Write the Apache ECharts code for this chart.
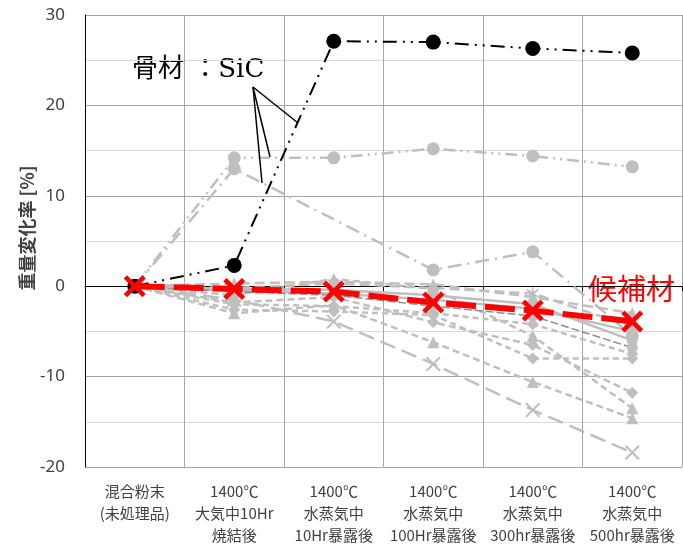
<!DOCTYPE html>
<html><head><meta charset="utf-8">
<script src="https://cdn.jsdelivr.net/npm/echarts@6/dist/echarts.min.js"></script>
<style>html,body{margin:0;padding:0;background:#fff}#c{width:683px;height:544px}</style>
</head><body><div id="c"></div>
<script>
const categories = ['混合粉末\n(未処理品)', '1400℃\n大気中10Hr\n焼結後', '1400℃\n水蒸気中\n10Hr暴露後', '1400℃\n水蒸気中\n100Hr暴露後', '1400℃\n水蒸気中\n300hr暴露後', '1400℃\n水蒸気中\n500hr暴露後'];
const sicValues = [0, 2.3, 27.1, 27.0, 26.3, 25.8];
const candidateValues = [0, -0.3, -0.6, -1.8, -2.7, -3.9];
const greyCircleA = [0, 14.2, 14.2, 15.2, 14.4, 13.2];
const greyCircleB = [0, 13.0, null, 1.8, 3.8, -5.5];
const greyCrossA = [0, -1.5, -3.9, -8.6, -13.7, -18.4];
const greyTriA = [0, -3.0, -2.1, -6.2, -10.6, -14.6];
const greyTriB = [0, -1.0, 0.8, -0.3, -5.5, -13.5];
const greyDiaA = [0, -1.8, -1.2, -4.0, -6.5, -11.8];
const greyDiaB = [0, -2.6, -2.8, -3.2, -8.0, -8.0];
const greyCircleC = [0, -0.5, -0.8, -1.5, -2.5, -5.0];
const greyCircleD = [0, -0.3, -0.4, -1.0, -2.0, -6.0];
const greyCircleE = [0, -0.6, -1.0, -2.2, -3.3, -6.8];
const greyStar = [0, -0.2, 0.3, -0.2, -0.8, -4.5];
const greyDiaC = [0, -2.0, -2.2, -3.0, -4.2, -7.5];
const greyTriC = [0, 0.3, 0.5, 0.2, -1.2, -3.0];
const yTicks = [-20, -10, 0, 10, 20, 30];

const GREY = '#bfbfbf';
const crossPath = 'path://M0,3 L3,0 L10,7 L17,0 L20,3 L13,10 L20,17 L17,20 L10,13 L3,20 L0,17 L7,10 Z';
const crossThin = 'path://M0,2 L2,0 L10,8 L18,0 L20,2 L12,10 L20,18 L18,20 L10,12 L2,20 L0,18 L8,10 Z';
const starPath = 'path://M9,0 L11,0 L11,7 L17,3 L18,5 L12,10 L18,15 L17,17 L11,13 L11,20 L9,20 L9,13 L3,17 L2,15 L8,10 L2,5 L3,3 L9,7 Z';

function grey(data, symbol, size, dash, width, color) {
  return {
    type: 'line', data: data, symbol: symbol, symbolSize: size, connectNulls: true,
    lineStyle: { color: color || GREY, width: width || 2.5, type: dash, cap: 'butt' },
    itemStyle: { color: GREY }, z: 2, animation: false
  };
}

const series = [
  grey(greyCircleA, 'circle', 13, [12, 5, 2, 5, 2, 5], 2.5),
  grey(greyCircleB, 'circle', 13, [14, 6, 2, 6], 2.5),
  grey(greyCrossA, crossThin, 15, [16, 7], 2.5),
  grey(greyTriA, 'triangle', 12, [7, 4], 2.5),
  grey(greyTriB, 'triangle', 12, [7, 4], 2.5),
  grey(greyDiaA, 'diamond', 12, [7, 4], 2.5),
  grey(greyDiaB, 'diamond', 12, [6, 4], 2.5),
  grey(greyCircleC, 'circle', 11, 'solid', 2.5),
  grey(greyCircleD, 'circle', 11, 'solid', 2.5),
  grey(greyCircleE, 'circle', 11, [8, 3], 1.5, '#8c8c8c'),
  grey(greyStar, starPath, 13, [10, 5], 2.5),
  grey(greyDiaC, 'diamond', 12, [6, 4], 2.5),
  grey(greyTriC, 'triangle', 12, [10, 5], 2.5),
  {
    type: 'line', data: sicValues, symbol: 'circle', symbolSize: 15,
    lineStyle: { color: '#000', width: 2, type: [14, 6, 2, 6, 2, 6] },
    itemStyle: { color: '#000' }, z: 3, animation: false
  },
  {
    type: 'line', data: candidateValues, symbol: crossPath, symbolSize: 22,
    lineStyle: { color: '#ff0000', width: 6, type: [30, 9], cap: 'butt' },
    itemStyle: { color: '#ff0000' }, z: 4, animation: false
  }
];

const chart = echarts.init(document.getElementById('c'), null, { renderer: 'canvas' });
chart.setOption({
  animation: false,
  grid: { left: 85, right: 1, top: 15, bottom: 77, containLabel: false, outerBoundsMode: 'none' },
  xAxis: {
    type: 'category', data: categories, boundaryGap: true,
    axisLine: { lineStyle: { color: '#000', width: 1 } },
    axisTick: { show: true, length: 5, lineStyle: { color: '#000' } },
    splitLine: { show: true, lineStyle: { color: '#a6a6a6', width: 1 } },
    axisLabel: { fontFamily: 'Noto Sans CJK JP', fontSize: 15, color: '#404040', lineHeight: 22, margin: 13, interval: 0 }
  },
  yAxis: {
    type: 'value', min: -20, max: 30, interval: 5,
    axisLine: { show: true, lineStyle: { color: '#000', width: 1 } },
    axisTick: { show: false },
    splitLine: { show: true, lineStyle: { color: ['#a6a6a6', '#d9d9d9'], width: 1 } },
    axisLabel: {
      fontFamily: 'Noto Sans', fontSize: 17, color: '#404040', margin: 20,
      formatter: function (v) { return yTicks.indexOf(v) >= 0 ? String(v) : ''; }
    }
  },
  graphic: [
    { type: 'text', x: 27, y: 228, rotation: Math.PI / 2,
      style: { text: '重量変化率 [%]', font: 'bold 18px "Noto Sans CJK JP"', fill: '#404040', align: 'center', verticalAlign: 'middle' } },
    { type: 'text', x: 132, y: 70,
      style: { text: '骨材 ：SiC', font: '26px "DejaVu Serif", "Noto Sans CJK JP"', fill: '#000', align: 'left', verticalAlign: 'middle' } },
    { type: 'text', x: 588, y: 289,
      style: { text: '候補材', font: '29px "Noto Sans CJK JP"', fill: '#ff0000', align: 'left', verticalAlign: 'middle' } },
    { type: 'line', shape: { x1: 253, y1: 87, x2: 298, y2: 123 }, style: { stroke: '#000', lineWidth: 1.5 }, z: 10 },
    { type: 'line', shape: { x1: 253, y1: 87, x2: 270, y2: 157 }, style: { stroke: '#000', lineWidth: 1.5 }, z: 10 },
    { type: 'line', shape: { x1: 253, y1: 87, x2: 262, y2: 183 }, style: { stroke: '#000', lineWidth: 1.5 }, z: 10 }
  ],
  series: series
});
</script>
</body></html>
